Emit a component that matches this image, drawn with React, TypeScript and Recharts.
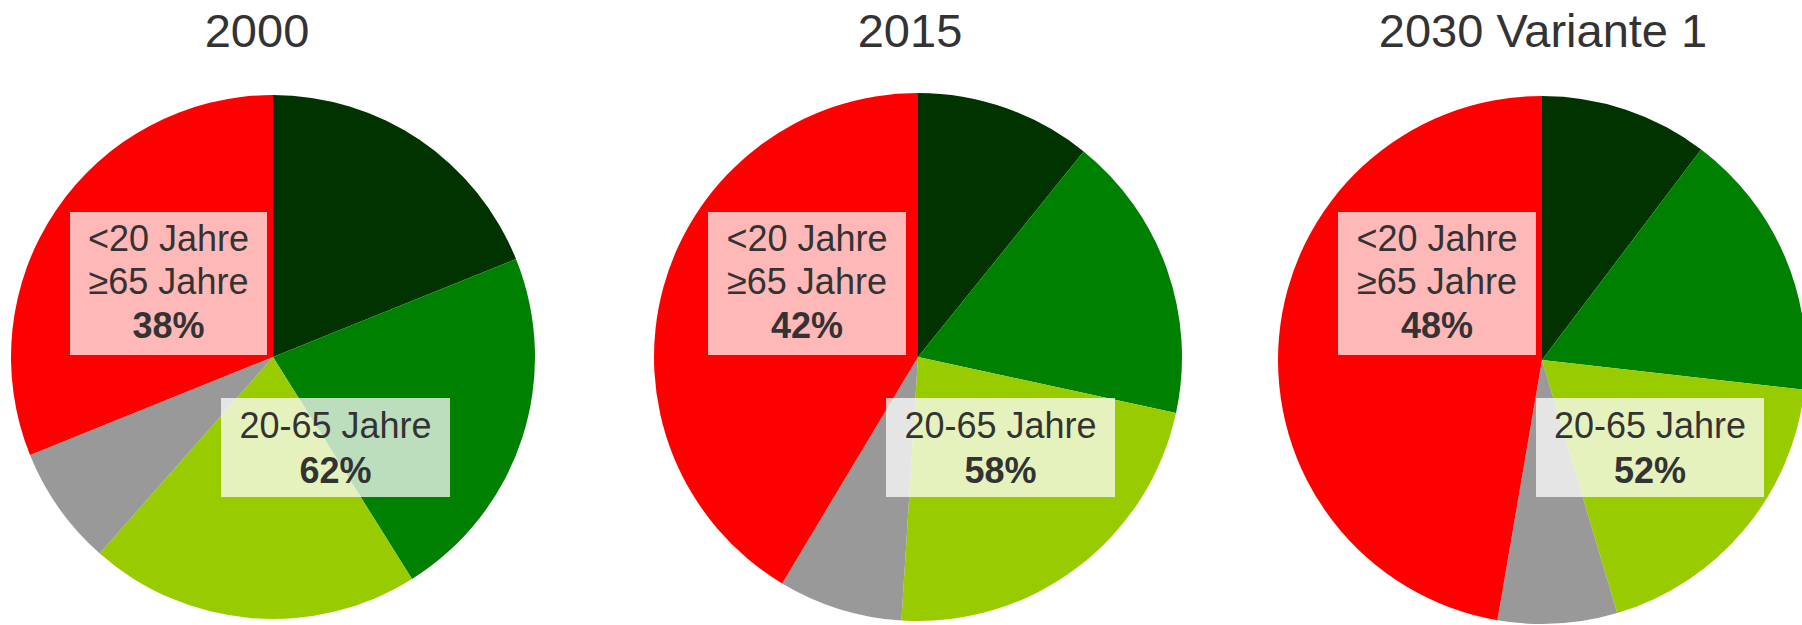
import React from "react";
import { PieChart, Pie, Cell } from "recharts";

// ---- data ----
const segments = ["Segment A", "Segment B", "Segment C", "Segment D", "Segment E"];
const segmentColors = ["#003300", "#008000", "#99CC00", "#999999", "#FF0000"];
const values2000 = [18.9, 22.2, 20.4, 7.4, 31.1];
const values2015 = [10.8, 17.6, 22.6, 7.6, 41.4];
const values2030 = [10.3, 16.5, 18.6, 7.3, 47.3];
const titles = ["2000", "2015", "2030 Variante 1"];
const groupOuterLines = ["<20 Jahre", "≥65 Jahre"];
const groupOuterPct = ["38%", "42%", "48%"];
const groupMiddleLine = "20-65 Jahre";
const groupMiddlePct = ["62%", "58%", "52%"];

const allValues = [values2000, values2015, values2030];

// ---- layout ----
const W = 1802;
const H = 625;
const layout = [
  { cx: 273, cy: 357, r: 262, titleX: 257, b1: [70, 267], b2: [221, 450] },
  { cx: 918, cy: 357, r: 264, titleX: 910, b1: [708, 906], b2: [886, 1115] },
  { cx: 1542, cy: 360, r: 264, titleX: 1543, b1: [1338, 1536], b2: [1536, 1764] },
];
const FONT = "'Liberation Sans', Arial, Helvetica, sans-serif";
const TXT = "#333333";

export default function App() {
  const datasets = allValues.map((vals) =>
    vals.map((v, i) => ({ name: segments[i], value: v }))
  );
  return (
    <div style={{ position: "fixed", left: 0, top: 0, width: W, height: H, background: "#fff" }}>
      <div style={{ position: "absolute", left: 0, top: 0 }}>
        <PieChart width={W} height={H} margin={{ top: 0, right: 0, bottom: 0, left: 0 }}>
          {datasets.map((d, k) => (
            <Pie
              key={k}
              data={d}
              dataKey="value"
              nameKey="name"
              cx={layout[k].cx}
              cy={layout[k].cy}
              outerRadius={layout[k].r}
              innerRadius={0}
              startAngle={90}
              endAngle={-270}
              stroke="none"
              isAnimationActive={false}
              labelLine={false}
            >
              {d.map((_, i) => (
                <Cell key={i} fill={segmentColors[i]} />
              ))}
            </Pie>
          ))}
        </PieChart>
      </div>
      <svg
        width={W}
        height={H}
        style={{ position: "absolute", left: 0, top: 0, pointerEvents: "none" }}
      >
        {layout.map((L, k) => {
          const m1 = (L.b1[0] + L.b1[1]) / 2;
          const m2 = (L.b2[0] + L.b2[1]) / 2;
          return (
            <g key={k} fontFamily={FONT} fill={TXT}>
              <text x={L.titleX} y={47} fontSize={47} textAnchor="middle">
                {titles[k]}
              </text>
              <rect
                x={L.b1[0]}
                y={212}
                width={L.b1[1] - L.b1[0]}
                height={143}
                fill="#ffffff"
                fillOpacity={0.72}
              />
              <text x={m1} y={251} fontSize={36} textAnchor="middle">
                {groupOuterLines[0]}
              </text>
              <text x={m1} y={294} fontSize={36} textAnchor="middle">
                {groupOuterLines[1]}
              </text>
              <text x={m1} y={338} fontSize={36} fontWeight="bold" textAnchor="middle">
                {groupOuterPct[k]}
              </text>
              <rect
                x={L.b2[0]}
                y={398}
                width={L.b2[1] - L.b2[0]}
                height={99}
                fill="#ffffff"
                fillOpacity={0.74}
              />
              <text x={m2} y={438} fontSize={36} textAnchor="middle">
                {groupMiddleLine}
              </text>
              <text x={m2} y={483} fontSize={36} fontWeight="bold" textAnchor="middle">
                {groupMiddlePct[k]}
              </text>
            </g>
          );
        })}
      </svg>
    </div>
  );
}
